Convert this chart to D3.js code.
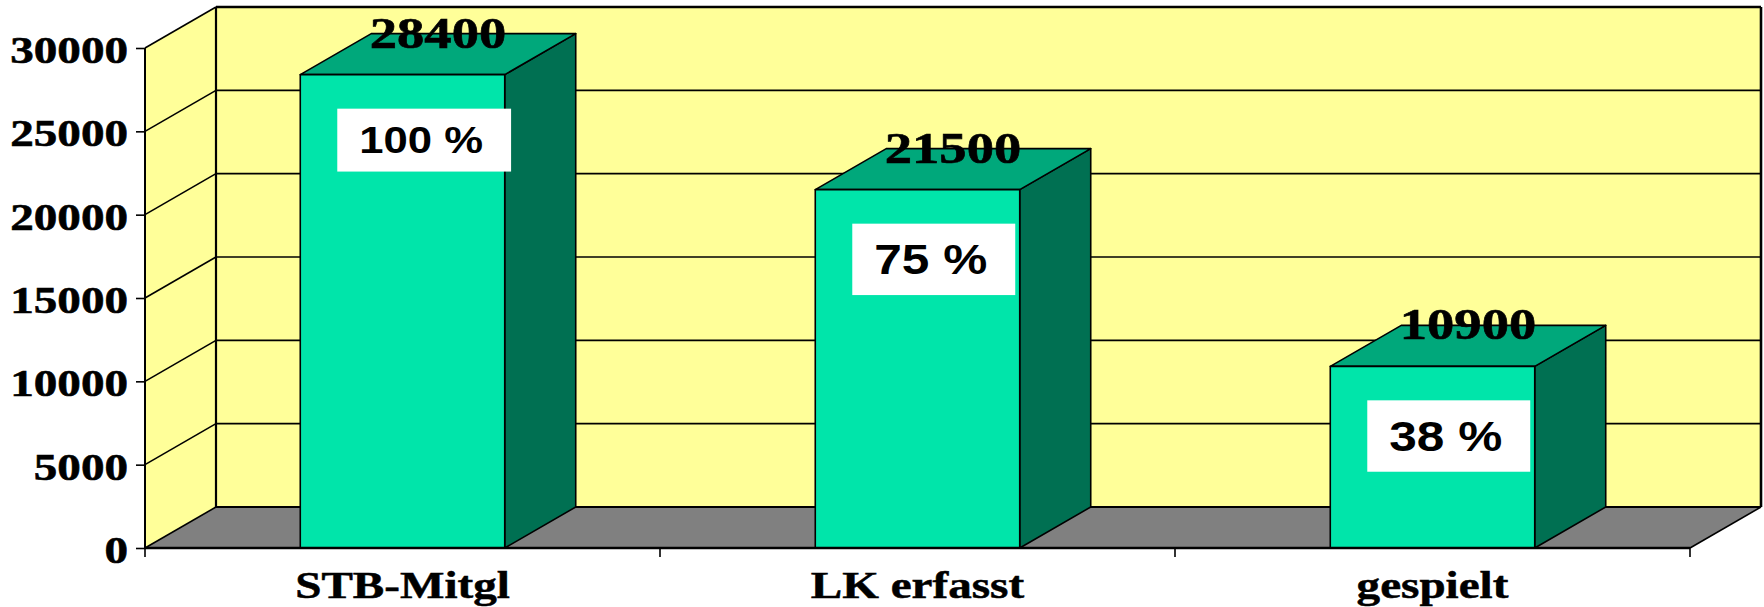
<!DOCTYPE html>
<html>
<head>
<meta charset="utf-8">
<script src="https://cdn.jsdelivr.net/npm/d3@7/dist/d3.min.js"></script>
<style>
  html, body { margin: 0; padding: 0; background: #ffffff; }
  svg { display: block; }
</style>
</head>
<body>
<svg id="chart" width="1764" height="607"></svg>
<script>
// ---- data ----
const categories = ["STB-Mitgl", "LK erfasst", "gespielt"];
const values = [28400, 21500, 10900];
const percentLabels = ["100 %", "75 %", "38 %"];
const yTicks = [0, 5000, 10000, 15000, 20000, 25000, 30000];

// ---- styles / layout ----
const pctFontSizes = [37, 42, 42];
const W = 1764, H = 607;
const X0 = 145, X1 = 1690, Y0 = 548, YTOP = 48;
const DX = 71, DY = -41;
const yellow = "#FFFF99", floorCol = "#808080";
const frontCol = "#00E5AA", topCol = "#00A87B", sideCol = "#007052";
const serif = "'Liberation Serif', 'Times New Roman', serif";
const sans = "'Liberation Sans', Arial, sans-serif";
const SX = 1.24;   // horizontal stretch of text
const PSX = 1.18;

const svg = d3.select("#chart");

const y = d3.scaleLinear().domain([0, 30000]).range([Y0, YTOP]);
const x = d3.scaleBand().domain(categories).range([X0, X1])
  .paddingInner(0.603).paddingOuter(0.3015).align(0.5);

const pts = a => a.map(p => p.join(",")).join(" ");

// walls
svg.append("polygon")
  .attr("points", pts([[X0, y(30000)], [X0 + DX, y(30000) + DY], [X0 + DX, Y0 + DY], [X0, Y0]]))
  .attr("fill", yellow);
svg.append("rect")
  .attr("x", X0 + DX).attr("y", y(30000) + DY)
  .attr("width", X1 - X0).attr("height", Y0 - y(30000))
  .attr("fill", yellow);
// floor
svg.append("polygon")
  .attr("points", pts([[X0, Y0], [X1, Y0], [X1 + DX, Y0 + DY], [X0 + DX, Y0 + DY]]))
  .attr("fill", floorCol);

// gridlines
const grid = svg.append("g").attr("stroke", "#000").attr("stroke-width", 1.6);
grid.selectAll("line.back").data(yTicks.filter(t => t > 0 && t < 30000)).join("line")
  .attr("x1", X0 + DX).attr("x2", X1 + DX)
  .attr("y1", d => y(d) + DY).attr("y2", d => y(d) + DY);
grid.selectAll("line.side").data(yTicks.filter(t => t > 0)).join("line")
  .attr("x1", X0).attr("x2", X0 + DX)
  .attr("y1", d => y(d)).attr("y2", d => y(d) + DY);

// frame of walls & floor
const frame = svg.append("g").attr("stroke", "#000").attr("fill", "none");
frame.append("line").attr("x1", X0 + DX).attr("x2", X1 + DX)
  .attr("y1", y(30000) + DY).attr("y2", y(30000) + DY).attr("stroke-width", 2.6);
frame.append("line").attr("x1", X1 + DX).attr("x2", X1 + DX)
  .attr("y1", y(30000) + DY).attr("y2", Y0 + DY).attr("stroke-width", 2.6);
frame.append("line").attr("x1", X0 + DX).attr("x2", X0 + DX)
  .attr("y1", y(30000) + DY).attr("y2", Y0 + DY).attr("stroke-width", 2.2);
frame.append("line").attr("x1", X0 + DX).attr("x2", X1 + DX)
  .attr("y1", Y0 + DY).attr("y2", Y0 + DY).attr("stroke-width", 2.2);
frame.append("line").attr("x1", X0).attr("x2", X0 + DX)
  .attr("y1", Y0).attr("y2", Y0 + DY).attr("stroke-width", 1.6);
frame.append("line").attr("x1", X1).attr("x2", X1 + DX)
  .attr("y1", Y0).attr("y2", Y0 + DY).attr("stroke-width", 1.6);

// bars
const bars = svg.append("g").selectAll("g").data(categories).join("g")
  .attr("stroke", "#000").attr("stroke-width", 1.6).attr("stroke-linejoin", "round");
bars.each(function (c, i) {
  const g = d3.select(this);
  const xl = x(c), xr = x(c) + x.bandwidth(), yt = y(values[i]);
  g.append("polygon").attr("fill", sideCol)
    .attr("points", pts([[xr, yt], [xr + DX, yt + DY], [xr + DX, Y0 + DY], [xr, Y0]]));
  g.append("polygon").attr("fill", topCol)
    .attr("points", pts([[xl, yt], [xl + DX, yt + DY], [xr + DX, yt + DY], [xr, yt]]));
  g.append("rect").attr("fill", frontCol)
    .attr("x", xl).attr("y", yt).attr("width", x.bandwidth()).attr("height", Y0 - yt);
});

// y axis
const yAxis = svg.append("g").attr("transform", `translate(${X0},0)`)
  .call(d3.axisLeft(y).tickValues(yTicks).tickSize(9).tickFormat(""));
yAxis.select(".domain").attr("stroke-width", 2).attr("d", `M0,${y(30000)}V${Y0}`);
yAxis.selectAll(".tick line").attr("stroke-width", 1.6);
svg.append("g").selectAll("text").data(yTicks).join("text")
  .attr("transform", d => `translate(${X0 - 17},${y(d) + 15}) scale(${SX},1)`)
  .attr("text-anchor", "end")
  .attr("font-family", serif).attr("font-weight", "bold").attr("font-size", 38)
  .attr("fill", "#000").attr("stroke", "#000").attr("stroke-width", 0.6)
  .text(d => d);

// x axis
svg.append("line").attr("x1", X0).attr("x2", X1).attr("y1", Y0).attr("y2", Y0)
  .attr("stroke", "#000").attr("stroke-width", 2.6);
const bounds = categories.map(c => x(c) - (x.step() - x.bandwidth()) / 2).concat([X1]);
svg.append("g").selectAll("line").data(bounds).join("line")
  .attr("x1", d => d).attr("x2", d => d).attr("y1", Y0).attr("y2", Y0 + 9)
  .attr("stroke", "#000").attr("stroke-width", 1.6);
svg.append("g").selectAll("text").data(categories).join("text")
  .attr("transform", c => `translate(${x(c) + x.bandwidth() / 2},598) scale(${SX},1)`)
  .attr("text-anchor", "middle")
  .attr("font-family", serif).attr("font-weight", "bold").attr("font-size", 38)
  .attr("fill", "#000").attr("stroke", "#000").attr("stroke-width", 0.5)
  .text(c => c);

// percent boxes
categories.forEach((c, i) => {
  const fs = pctFontSizes[i];
  const yt = y(values[i]);
  const bx = x(c) + 37, by = yt + 34;
  const g = svg.append("g");
  const rect = g.append("rect").attr("fill", "#fff");
  const t = g.append("text")
    .attr("font-family", sans).attr("font-weight", "bold").attr("font-size", fs)
    .attr("fill", "#000").text(percentLabels[i]);
  const tw = t.node().getComputedTextLength() * PSX;
  const bw = tw + 50, bh = fs * 1.7;
  rect.attr("x", bx).attr("y", by).attr("width", bw).attr("height", bh);
  t.attr("transform", `translate(${bx + 22},${by + bh / 2 + fs * 0.36}) scale(${PSX},1)`);
});

// value labels
svg.append("g").selectAll("text").data(categories).join("text")
  .attr("transform", (c, i) => `translate(${x(c) + x.bandwidth() / 2 + DX / 2},${y(values[i]) - 27}) scale(${SX},1)`)
  .attr("text-anchor", "middle")
  .attr("font-family", serif).attr("font-weight", "bold").attr("font-size", 44)
  .attr("fill", "#000").attr("stroke", "#000").attr("stroke-width", 0.6)
  .text((c, i) => values[i]);
</script>
</body>
</html>
